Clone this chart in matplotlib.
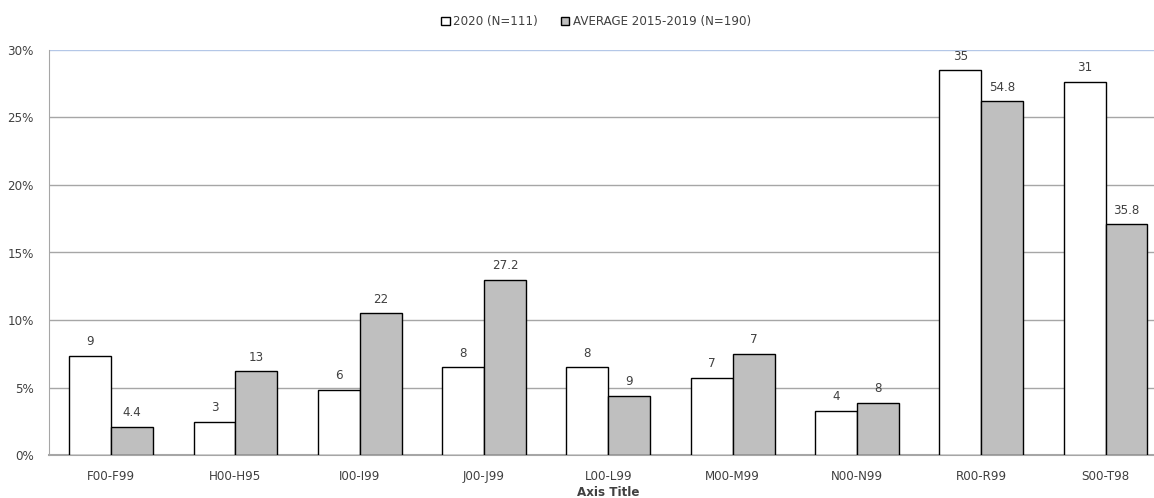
import matplotlib.pyplot as plt
import numpy as np

categories = ["F00-F99", "H00-H95", "I00-I99", "J00-J99", "L00-L99",
              "M00-M99", "N00-N99", "R00-R99", "S00-T98"]
pct_2020 = [7.35, 2.45, 4.85, 6.5, 6.5, 5.7, 3.25, 28.5, 27.65]
pct_avg = [2.1, 6.2, 10.5, 13.0, 4.4, 7.5, 3.85, 26.2, 17.1]
labels_2020 = ["9", "3", "6", "8", "8", "7", "4", "35", "31"]
labels_avg = ["4.4", "13", "22", "27.2", "9", "7", "8", "54.8", "35.8"]

txt = "#404040"
fs = 8.6
fig = plt.figure(figsize=(11.54, 4.98), dpi=100)
ax = fig.add_axes([49 / 1154, 1 - 455 / 498, 1 - 49 / 1154, (455 - 50) / 498])

x = np.arange(len(categories))
w = 0.337
b1 = ax.bar(x - w / 2, pct_2020, w, color="white", edgecolor="black", linewidth=1,
            label="2020 (N=111)", zorder=3)
b2 = ax.bar(x + w / 2, pct_avg, w, color="#bfbfbf", edgecolor="black", linewidth=1,
            label="AVERAGE 2015-2019 (N=190)", zorder=3)

for bars, labs in ((b1, labels_2020), (b2, labels_avg)):
    for r, lab in zip(bars, labs):
        ax.annotate(lab, (r.get_x() + r.get_width() / 2, r.get_height()),
                    xytext=(0, 5.5), textcoords="offset points", ha="center",
                    va="bottom", fontsize=fs, color=txt)

ax.set_xlim(-0.5, 8.39)
ax.set_ylim(0, 30)
ax.set_yticks(range(0, 31, 5))
ax.set_yticklabels([f"{v}%" for v in range(0, 31, 5)])
ax.set_xticks(x)
ax.set_xticklabels(categories)
ax.tick_params(axis="both", length=0, labelsize=fs, labelcolor=txt)
ax.tick_params(axis="x", pad=11)
ax.tick_params(axis="y", pad=11)

for v in range(5, 26, 5):
    ax.axhline(v, color="#a6a6a6", linewidth=1, zorder=1)
ax.axhline(30, color="#b4c7e7", linewidth=1, zorder=1)

for s in ("top", "right"):
    ax.spines[s].set_visible(False)
ax.spines["left"].set_color("#a6a6a6")
ax.spines["bottom"].set_color("#a6a6a6")
ax.spines["bottom"].set_linewidth(1.5)

fig.text(608 / 1154, 1 - 492 / 498, "Axis Title", ha="center", va="center",
         fontsize=fs, fontweight="bold", color=txt)

fig.legend(loc="center", bbox_to_anchor=(596 / 1154, 1 - 22 / 498), ncol=2,
           frameon=False, fontsize=fs, handlelength=0.7, handleheight=0.7,
           handletextpad=0.3, columnspacing=1.9, labelcolor=txt)

fig.savefig("out.png")
